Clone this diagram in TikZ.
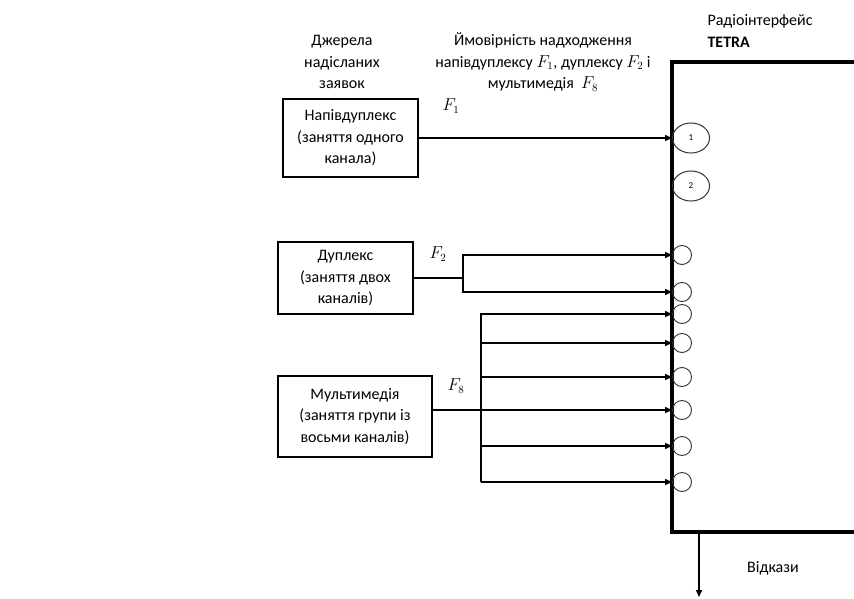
\documentclass[tikz,border=0pt]{standalone}
\usepackage{fontspec}
\setmainfont{Carlito}
\usetikzlibrary{arrows.meta, positioning, calc, shapes.geometric}

\tikzset{
  srcbox/.style={draw, line width=1.6pt, align=center, inner sep=2pt},
  chan/.style={circle, draw=black!80, line width=0.9pt, minimum size=19pt, inner sep=0pt},
  bigchan/.style={ellipse, draw=black!80, line width=1pt, minimum width=37pt, minimum height=30pt,
                  inner sep=0pt, font=\fontsize{9}{10}\selectfont},
  link/.style={line width=1.4pt},
  feed/.style={line width=1.4pt, -{Triangle[length=7pt,width=6pt]}},
}

\begin{document}
\begin{tikzpicture}[x=1pt, y=-1pt, font=\fontsize{16}{21.5}\selectfont]
  \useasboundingbox (0,0) rectangle (854,599);

  % radio interface (open to the right)
  \coordinate (rxTL) at (672,62);
  \coordinate (rxBL) at (672,532);
  \draw[line width=3.4pt] (854,62) -- (rxTL) -- (rxBL) -- (854,532);

  % channels
  \node[bigchan] (c1) at (691,138) {1};
  \node[bigchan] (c2) at (691,186) {2};
  \foreach \n/\y in {3/255,4/292,5/314,6/343,7/377,8/410,9/446,10/482}
    \node[chan] (ch\n) at (682,\y) {};

  % sources
  \node[srcbox, minimum width=135pt, minimum height=78pt] (half) at (350.5,138)
    {Напівдуплекс\\(заняття одного\\канала)};
  \node[srcbox, minimum width=135pt, minimum height=72pt] (duplex) at (345.5,278)
    {Дуплекс\\(заняття двох\\каналів)};
  \node[srcbox, minimum width=154pt, minimum height=81pt] (media) at (355,416.5)
    {Мультимедія\\(заняття групи із\\восьми каналів)};

  % half duplex
  \draw[feed] (half.east) -- (half.east -| c1.west);

  % duplex
  \draw[link] (duplex.east) -- ++(49,0) coordinate (dupbus);
  \draw[feed] (dupbus) |- (ch3.west);
  \draw[feed] (dupbus) |- (ch4.west);

  % multimedia
  \path (media.east) ++(48,0) coordinate (mmbus);
  \draw[feed] (mmbus |- ch10) -- (mmbus |- ch5) -- (ch5.west);
  \foreach \n in {6,...,10}
    \draw[feed] (mmbus |- ch\n) -- (ch\n.west);
  \draw[link] (media.east |- ch8) -- (mmbus |- ch8);

  % refusals
  \coordinate (rxOut) at (699,532);
  \draw[feed] (rxOut) -- ++(0,65) coordinate (refOut);

  % labels
  \node[align=center] (srcHead) at (342,62) {Джерела\\надісланих\\заявок};
  \node[align=center] (probHead) at (543,62)
    {Ймовірність надходження\\напівдуплексу $F_1$, дуплексу $F_2$ і\\мультимедія~ $F_8$};
  \node[anchor=west, align=left] (ifaceHead) at (704,31) {Радіоінтерфейс\\\textbf{TETRA}};
  \node (f1) at (451,106) {$F_1$};
  \node (f2) at (438,254) {$F_2$};
  \node (f8) at (456,386) {$F_8$};
  \node (refuse) at (773,568) {Відкази};
\end{tikzpicture}
\end{document}
